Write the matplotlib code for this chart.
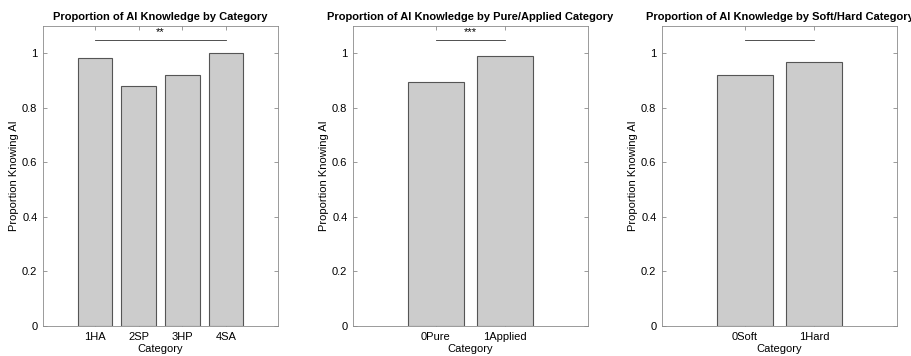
import matplotlib
matplotlib.use("Agg")
import matplotlib.pyplot as plt
import numpy as np

plt.rcParams['font.family'] = ['Liberation Sans', 'DejaVu Sans']

titles = ["Proportion of AI Knowledge by Category",
          "Proportion of AI Knowledge by Pure/Applied Category",
          "Proportion of AI Knowledge by Soft/Hard Category"]
cats1 = ["1HA", "2SP", "3HP", "4SA"]
vals1 = [0.984, 0.879, 0.920, 1.0]
cats2 = ["0Pure", "1Applied"]
vals2 = [0.893, 0.989]
cats3 = ["0Soft", "1Hard"]
vals3 = [0.919, 0.968]
sig_labels = ["**", "***", ""]
sig_y = 1.05

panels = [(cats1, vals1), (cats2, vals2), (cats3, vals3)]
lefts = [43, 353, 662]
W, H = 912, 356
axw, axtop, axbot = 235, 26, 326

fig = plt.figure(figsize=(W/100, H/100), dpi=100)
axcol = '#8a8a8a'
for i, ((cats, vals), title) in enumerate(zip(panels, titles)):
    ax = fig.add_axes([lefts[i]/W, 1-axbot/H, axw/W, (axbot-axtop)/H])
    x = np.arange(1, len(cats)+1)
    ax.bar(x, vals, width=0.8, color='#cccccc', edgecolor='#555555', linewidth=0.8, zorder=2)
    ax.set_xlim(1-1.19, len(cats)+1.19)
    ax.set_ylim(0, 1.1)
    ax.set_xticks(x)
    ax.set_xticklabels(cats, fontsize=8)
    ax.set_yticks([0, 0.2, 0.4, 0.6, 0.8, 1.0])
    ax.set_yticklabels(["0", "0.2", "0.4", "0.6", "0.8", "1"], fontsize=8)
    ax.tick_params(direction='in', length=3, width=0.6, color=axcol, top=True, right=True, pad=4)
    for s in ax.spines.values():
        s.set_color(axcol)
        s.set_linewidth(0.6)
    ax.set_title(title, fontsize=8, fontweight='bold', pad=4)
    ax.set_xlabel("Category", fontsize=8, labelpad=2)
    ax.set_ylabel("Proportion Knowing AI", fontsize=8, labelpad=2)
    ax.plot([x[0], x[-1]], [sig_y, sig_y], color='#333333', linewidth=0.6)
    if sig_labels[i]:
        ax.text((x[0]+x[-1])/2, sig_y+0.01, sig_labels[i], ha='center', va='bottom', fontsize=8)

fig.savefig("out.png", dpi=100)
